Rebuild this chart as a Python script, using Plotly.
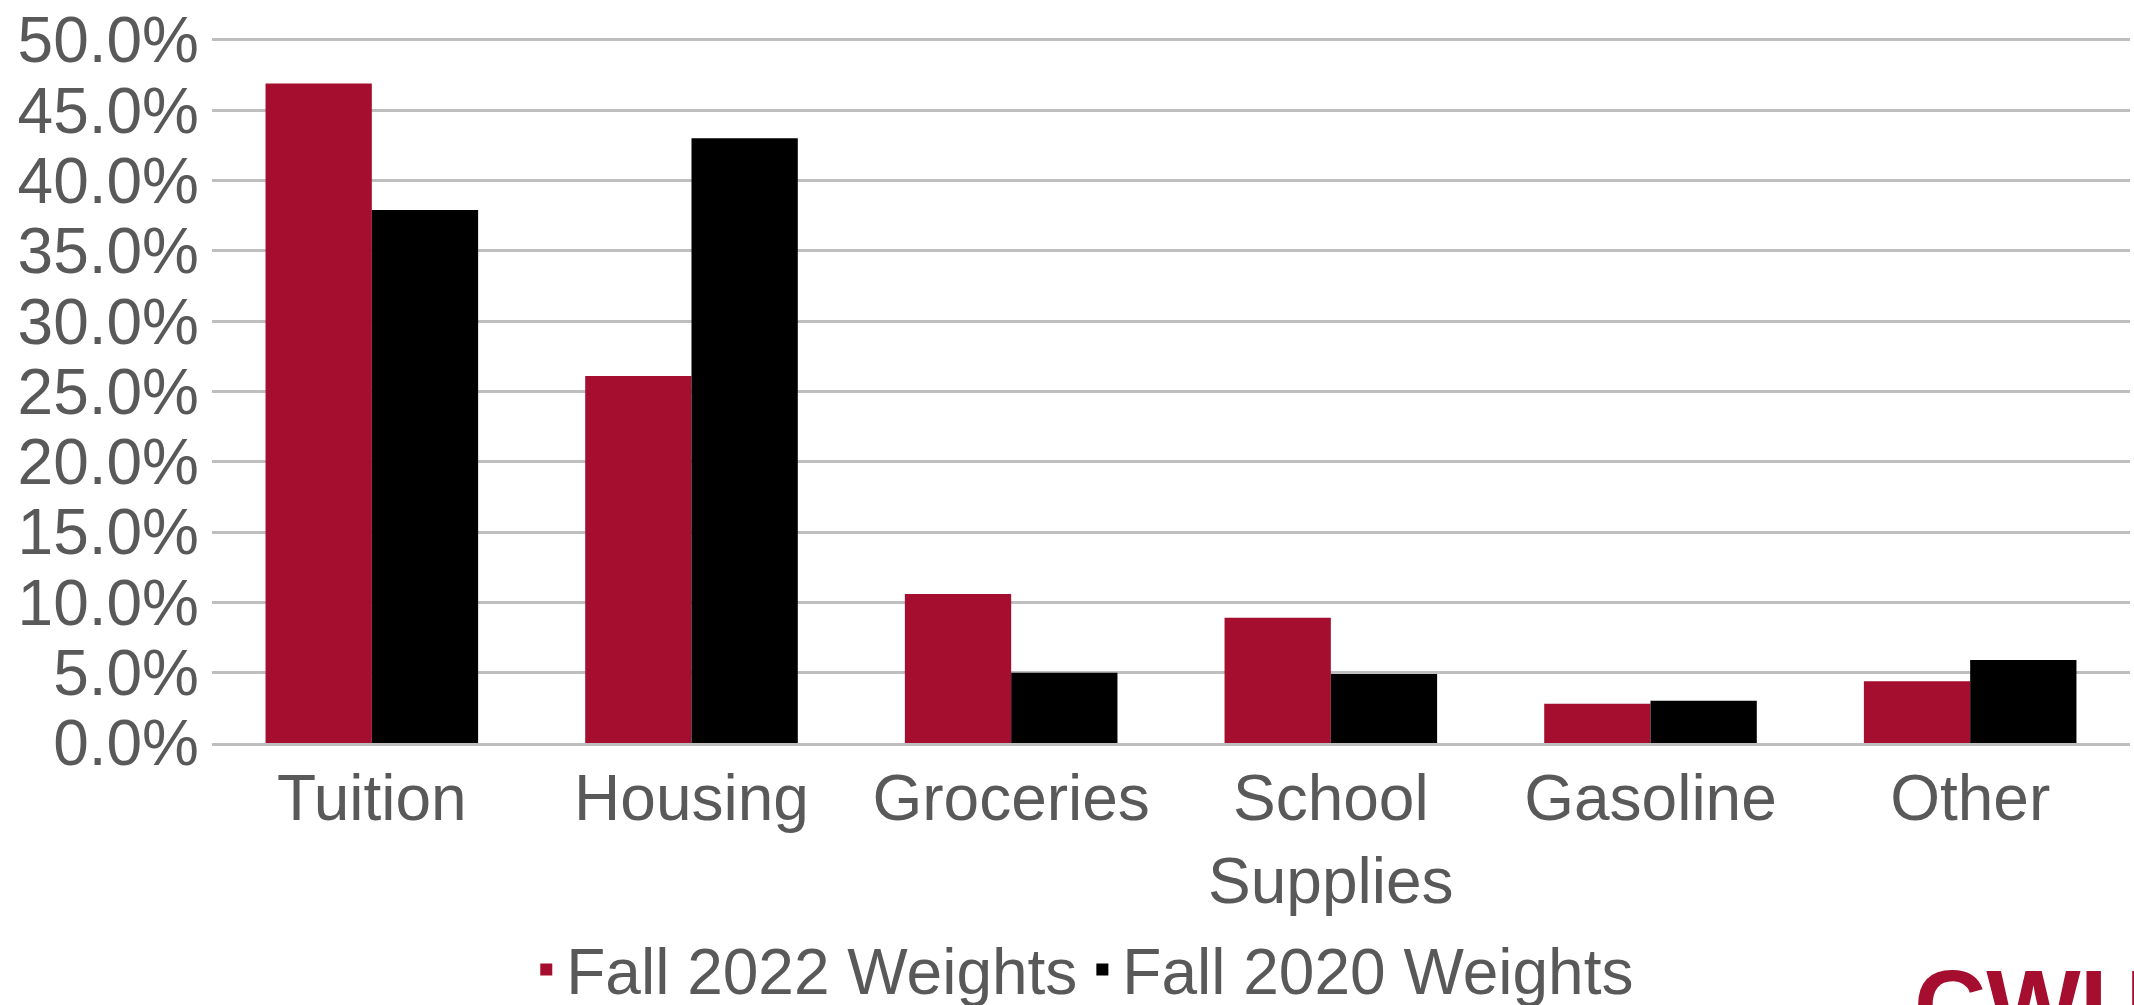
import plotly.graph_objects as go

categories = ["Tuition", "Housing", "Groceries", "School<br>Supplies", "Gasoline", "Other"]
fall_2022 = [0.469, 0.261, 0.106, 0.089, 0.028, 0.044]
fall_2020 = [0.379, 0.430, 0.050, 0.049, 0.030, 0.059]
y_ticks = [0.0, 0.05, 0.10, 0.15, 0.20, 0.25, 0.30, 0.35, 0.40, 0.45, 0.50]

red = "#A50E2E"
grey_text = "#595959"

fig = go.Figure()
fig.add_trace(go.Bar(name="Fall 2022 Weights", x=categories, y=fall_2022,
                     marker=dict(color=red, line=dict(width=0))))
fig.add_trace(go.Bar(name="Fall 2020 Weights", x=categories, y=fall_2020,
                     marker=dict(color="#000000", line=dict(width=0))))

fig.update_layout(
    width=2134, height=1005,
    margin=dict(l=212, r=4, t=28, b=262),
    plot_bgcolor="white", paper_bgcolor="white",
    barmode="group", bargap=0.335, bargroupgap=0,
    font=dict(family="Liberation Sans, Arial, sans-serif", size=64, color=grey_text),
    showlegend=True,
    # container coords so the legend does not push the bottom margin
    legend=dict(orientation="h", x=0.454, xanchor="center",
                yref="container", y=0.035, yanchor="middle",
                font=dict(size=64, color=grey_text), bgcolor="rgba(0,0,0,0)"),
)
# a little headroom so the 50% gridline and label are drawn
fig.update_yaxes(range=[0, 0.5035], tickvals=y_ticks, tickformat=".1%",
                 showgrid=True, gridcolor="#BFBFBF", gridwidth=3,
                 zeroline=False, showline=False, ticklabelstandoff=12,
                 ticklabeloverflow="allow")
fig.update_xaxes(showline=True, linecolor="#BFBFBF", linewidth=3,
                 ticks="", ticklabelstandoff=-3)

# logo, cut off at the bottom edge like the source slide
fig.add_annotation(text="<b>CWU</b>", xref="paper", yref="paper",
                   x=0.8865, y=-0.288, xanchor="left", yanchor="top",
                   showarrow=False,
                   font=dict(family="Liberation Sans, Arial, sans-serif", size=100, color=red))

fig.write_html("out.html", config={"displayModeBar": False},
               post_script="document.body.style.margin='0';")
